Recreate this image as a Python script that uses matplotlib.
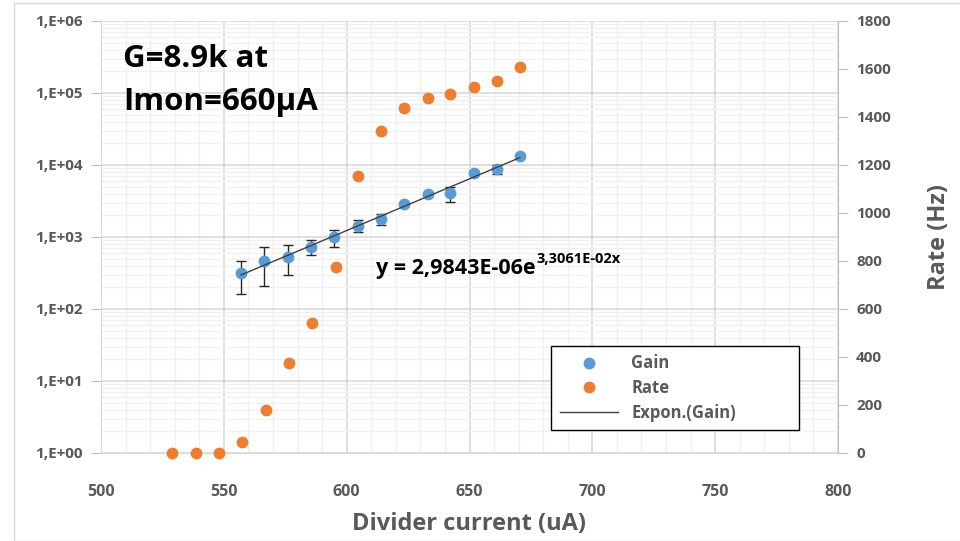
import numpy as np
import matplotlib
matplotlib.use("Agg")
import matplotlib.pyplot as plt
from matplotlib.lines import Line2D
from matplotlib.patches import Rectangle
from matplotlib.ticker import MultipleLocator, LogLocator, NullFormatter

# data
gain_x = [557, 566.5, 576, 585.5, 595, 604.5, 614, 623.5, 633, 642, 652, 661, 670.5]
gain_y = [313, 464, 532, 733, 991, 1435, 1778, 2900, 3918, 4045, 7743, 8797, 13460]
gain_err = [150, 255, 235, 170, 255, 280, 300, 200, 200, 980, 500, 1300, 500]

rate_x = [529, 538.5, 548, 557.5, 567, 576.5, 586, 595.5, 604.5, 614, 623.5, 633, 642, 652, 661, 670.5]
rate_y = [0, 0, 0, 46, 180, 376, 540, 775, 1154, 1340, 1439, 1480, 1497, 1526, 1551, 1607]

# exponential trendline from the displayed equation
fit_a = 2.9843e-06
fit_b = 3.3061e-02

log_ticks = [1, 10, 100, 1e3, 1e4, 1e5, 1e6]
log_labels = ["1,E+00", "1,E+01", "1,E+02", "1,E+03", "1,E+04", "1,E+05", "1,E+06"]

blue = "#5B9BD5"
orange = "#ED7D31"
grey_txt = "#595959"

plt.rcParams['font.family'] = ['Open Sans', 'DejaVu Sans']
plt.rcParams['font.weight'] = 'bold'
plt.rcParams['axes.labelweight'] = 'bold'

fig = plt.figure(figsize=(9.6, 5.41), dpi=100)
ax = fig.add_axes([101 / 960, 1 - 453 / 541, 737 / 960, 432 / 541])
ax2 = ax.twinx()

# outer chart frame
fig.patches.append(Rectangle((14 / 960, 0.0), 1.2, 1 - 3 / 541, transform=fig.transFigure,
                             fill=False, edgecolor="#d9d9d9", lw=1))

ax.set_xlim(500, 800)
ax.set_yscale("log")
ax.set_ylim(1, 1e6)
ax.set_yticks(log_ticks)
ax.set_yticklabels(log_labels)
ax.yaxis.set_minor_locator(LogLocator(base=10, subs=np.arange(2, 10)))
ax.yaxis.set_minor_formatter(NullFormatter())
ax.xaxis.set_major_locator(MultipleLocator(50))
ax.xaxis.set_minor_locator(MultipleLocator(10))

ax.grid(which="major", color="#d9d9d9", lw=1.2)
ax.grid(which="minor", color="#f0f0f0", lw=1)
ax.set_axisbelow(True)

for sp in ["top", "right"]:
    ax.spines[sp].set_visible(False)
ax.spines["left"].set_color("#d9d9d9")
ax.spines["bottom"].set_color("#d9d9d9")
ax.tick_params(axis="y", which="major", length=7, color="#bfbfbf", labelsize=11,
               labelcolor=grey_txt, pad=6)
ax.tick_params(axis="y", which="minor", length=0)
ax.tick_params(axis="x", which="both", length=0, labelsize=11.5, labelcolor=grey_txt, pad=22)

ax2.set_ylim(0, 1800)
ax2.yaxis.set_major_locator(MultipleLocator(200))
for sp in ["top", "left", "bottom"]:
    ax2.spines[sp].set_visible(False)
ax2.spines["right"].set_color("#bfbfbf")
ax2.tick_params(axis="y", length=7, color="#bfbfbf", labelsize=11, labelcolor=grey_txt, pad=6)

# gain with error bars
ax.errorbar(gain_x, gain_y, yerr=gain_err, fmt="none", ecolor="#262626", elinewidth=1,
            capsize=3.5, capthick=1, zorder=3)
ax.plot(gain_x, gain_y, "o", color=blue, ms=7.5, zorder=4)

# trendline
tx = np.linspace(min(gain_x), max(gain_x), 100)
ax.plot(tx, fit_a * np.exp(fit_b * tx), color="#404040", lw=1, zorder=5)

# rate on secondary axis
ax2.plot(rate_x, rate_y, "o", color=orange, ms=7.5, zorder=4, clip_on=False)

ax.set_xlabel("Divider current (uA)", fontsize=17, color=grey_txt, labelpad=9)
ax2.set_ylabel("Rate (Hz)", fontsize=17, color=grey_txt, labelpad=26)

ax.text(0.03, 0.913, "G=8.9k at", transform=ax.transAxes, fontsize=22.5, color="black",
        va="center", ha="left")
ax.text(0.03, 0.812, "Imon=660\u00b5A", transform=ax.transAxes, fontsize=22.5, color="black",
        va="center", ha="left")
eq = ax.text(0.373, 0.428, "y = 2,9843E-06e", transform=ax.transAxes,
             fontsize=15.5, color="black", va="center", ha="left")
ax.annotate("3,3061E-02x", xy=(1, 0.62), xycoords=eq, xytext=(1, 0), textcoords="offset points",
            fontsize=10.5, color="black", va="bottom", ha="left")

handles = [
    Line2D([], [], ls="none", marker="o", color=blue, ms=7.5),
    Line2D([], [], ls="none", marker="o", color=orange, ms=7.5),
    Line2D([], [], color="#404040", lw=1),
]
leg = ax2.legend(handles, ["Gain", "Rate", "Expon.(Gain)"], loc="lower left",
                 bbox_to_anchor=(0.611, 0.053, 0.336, 0.213), mode="expand",
                 fancybox=False, edgecolor="black", framealpha=1, fontsize=12,
                 handlelength=3.5, borderpad=0.5, labelspacing=0.4, borderaxespad=0)
leg.get_frame().set_linewidth(1)
for t in leg.get_texts():
    t.set_color(grey_txt)

fig.savefig("out.png", dpi=100)
